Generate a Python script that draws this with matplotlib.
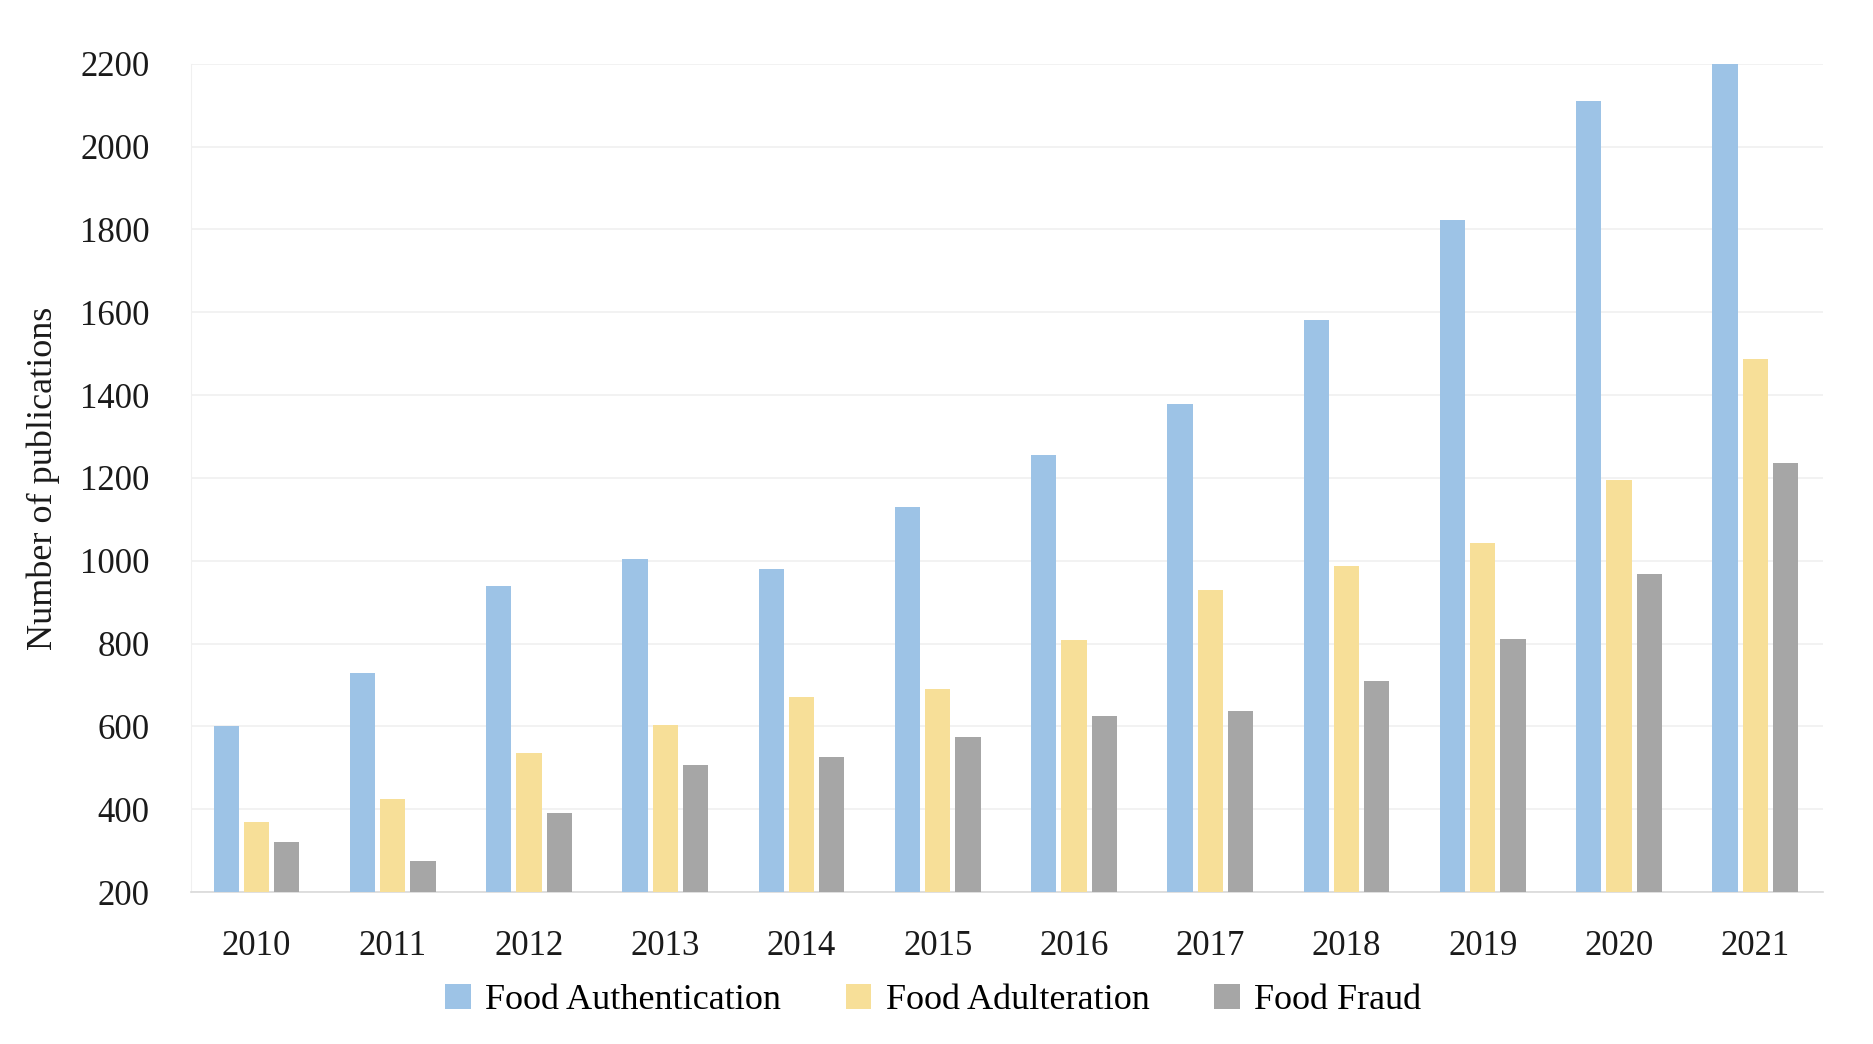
import matplotlib
matplotlib.use('Agg')
import matplotlib.pyplot as plt
import numpy as np

years = ['2010', '2011', '2012', '2013', '2014', '2015',
         '2016', '2017', '2018', '2019', '2020', '2021']
authentication = [600, 730, 940, 1005, 980, 1130, 1255, 1378, 1580, 1822, 2110, 2200]
adulteration = [370, 425, 537, 603, 670, 690, 808, 929, 987, 1044, 1194, 1488]
fraud = [320, 275, 390, 508, 526, 575, 624, 638, 710, 811, 967, 1235]

series = [('Food Authentication', authentication, '#9dc3e6'),
          ('Food Adulteration', adulteration, '#f7df98'),
          ('Food Fraud', fraud, '#a6a6a6')]

plt.rcParams['font.family'] = ['Liberation Serif', 'DejaVu Serif']

fig = plt.figure(figsize=(18.74, 10.44), dpi=100)
ax = fig.add_axes([0.102, 0.1455, 0.871, 0.7935])

x = np.arange(len(years))
w = 0.185
step = 0.222
for i, (name, vals, col) in enumerate(series):
    base = 200
    ax.bar(x + (i - 1) * step, np.array(vals) - base, w, bottom=base,
           color=col, label=name, zorder=3)

ax.set_ylim(200, 2200)
ax.set_xlim(-0.48, 11.5)
ax.set_yticks(np.arange(200, 2201, 200))
ax.set_xticks(x)
ax.set_xticklabels(years)
ax.tick_params(axis='both', length=0, labelsize=25, colors='#1a1a1a')
ax.tick_params(axis='x', pad=27)
ax.tick_params(axis='y', pad=30)
ax.grid(axis='y', color='#f0f0f0', linewidth=1.2, zorder=0)

for s in ['top', 'right']:
    ax.spines[s].set_visible(False)
ax.spines['left'].set_color('#f0f0f0')
ax.spines['bottom'].set_color('#d9d9d9')
ax.spines['bottom'].set_linewidth(1.2)

ax.set_ylabel('Number of publications', fontsize=26, color='#1a1a1a', labelpad=14)

fig.legend(loc='center', bbox_to_anchor=(0.498, 0.042), ncol=3, frameon=False,
           fontsize=26, handlelength=0.7, handleheight=0.7, handletextpad=0.4,
           columnspacing=1.8)

plt.savefig('out.png', dpi=100)
